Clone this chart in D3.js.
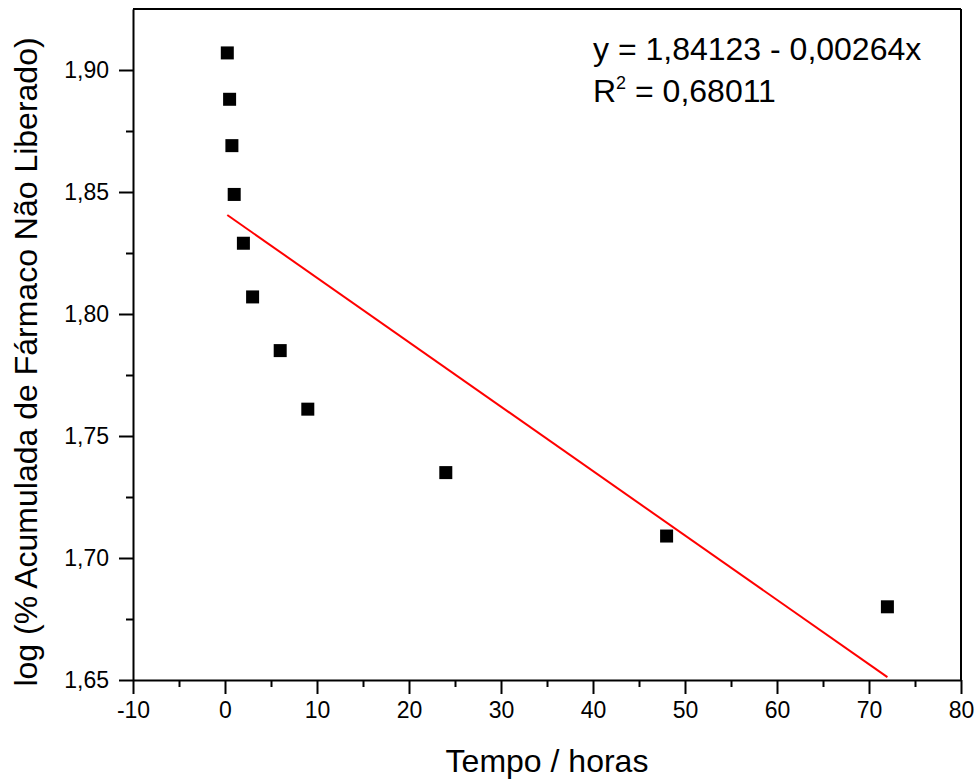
<!DOCTYPE html>
<html>
<head>
<meta charset="utf-8">
<script src="https://cdn.jsdelivr.net/npm/d3@7"></script>
<style>
  body { margin: 0; background: #fff; }
  text { font-family: Arial, "Liberation Sans", sans-serif; fill: #000; }
</style>
</head>
<body>
<div id="chart_div"></div>
<script>
//---------------------------- DATA ----------------------------//
const tempo = [0.25, 0.5, 0.75, 1, 2, 3, 6, 9, 24, 48, 72];
const logNaoLiberado = [1.907, 1.888, 1.869, 1.849, 1.829, 1.807, 1.785, 1.761, 1.735, 1.709, 1.680];
const fitIntercept = 1.84123;
const fitSlope = -0.00264;
const fitRange = [0.25, 72];
const xTicks = [-10, 0, 10, 20, 30, 40, 50, 60, 70, 80];
const yTicks = [1.65, 1.70, 1.75, 1.80, 1.85, 1.90];
const eqLines = ["y = 1,84123 - 0,00264x", "R", "2", " = 0,68011"];

//---------------------------- SVG -----------------------------//
const width = 980, height = 783;
const m = { left: 133, right: 961, top: 9, bottom: 680 };

const svg = d3.select("#chart_div").append("svg")
  .attr("width", width)
  .attr("height", height);

//--------------------------- SCALES ---------------------------//
const x = d3.scaleLinear().domain([-10, 80]).range([m.left, m.right]);
const y = d3.scaleLinear().domain([1.65, 1.925]).range([m.bottom, m.top]);

const fmt = v => d3.format(".2f")(v).replace(".", ",");

//---------------------------- AXES ----------------------------//
// minor ticks first
svg.append("g")
  .attr("transform", "translate(0," + m.bottom + ")")
  .call(d3.axisBottom(x).tickValues(d3.range(-5, 80, 10)).tickSize(7).tickFormat(""))
  .call(g => g.select(".domain").remove())
  .selectAll("line").attr("stroke-width", 2);

svg.append("g")
  .attr("transform", "translate(" + m.left + ",0)")
  .call(d3.axisLeft(y).tickValues(d3.range(1.675, 1.92, 0.05)).tickSize(7).tickFormat(""))
  .call(g => g.select(".domain").remove())
  .selectAll("line").attr("stroke-width", 2);

const xaxis = svg.append("g")
  .attr("transform", "translate(0," + m.bottom + ")")
  .call(d3.axisBottom(x).tickValues(xTicks).tickSize(14).tickPadding(6).tickSizeOuter(0).tickFormat(d => d));
xaxis.selectAll("line").attr("stroke-width", 2);
xaxis.select(".domain").attr("stroke-width", 2);
xaxis.selectAll("text").style("font-size", "23px").attr("dy", "0.78em");

const yaxis = svg.append("g")
  .attr("transform", "translate(" + m.left + ",0)")
  .call(d3.axisLeft(y).tickValues(yTicks).tickSize(14).tickPadding(10).tickSizeOuter(0).tickFormat(fmt));
yaxis.selectAll("line").attr("stroke-width", 2);
yaxis.select(".domain").attr("stroke-width", 2);
yaxis.selectAll("text").style("font-size", "23px");

// top and right frame
svg.append("line")
  .attr("x1", m.left).attr("x2", m.right).attr("y1", m.top).attr("y2", m.top)
  .attr("stroke", "#000").attr("stroke-width", 2);
svg.append("line")
  .attr("x1", m.right).attr("x2", m.right).attr("y1", m.top).attr("y2", m.bottom)
  .attr("stroke", "#000").attr("stroke-width", 2);

//--------------------------- TITLES ---------------------------//
svg.append("text")
  .attr("x", (m.left + m.right) / 2)
  .attr("y", 772)
  .attr("text-anchor", "middle")
  .style("font-size", "32px")
  .text("Tempo / horas");

svg.append("text")
  .attr("transform", "translate(37," + 362 + ") rotate(-90)")
  .attr("text-anchor", "middle")
  .style("font-size", "32px")
  .text("log (% Acumulada de Fármaco Não Liberado)");

//------------------------- FIT LINE ---------------------------//
const fit = fitRange.map(t => ({ t: t, v: fitIntercept + fitSlope * t }));
svg.append("path")
  .datum(fit)
  .attr("fill", "none")
  .attr("stroke", "#ff0000")
  .attr("stroke-width", 2)
  .attr("d", d3.line().x(d => x(d.t)).y(d => y(d.v)));

//--------------------------- POINTS ---------------------------//
const s = 13;
svg.append("g")
  .selectAll("rect")
  .data(tempo.map((t, i) => ({ t: t, v: logNaoLiberado[i] })))
  .enter()
  .append("rect")
  .attr("x", d => x(d.t) - s / 2)
  .attr("y", d => y(d.v) - s / 2)
  .attr("width", s)
  .attr("height", s)
  .attr("fill", "#000");

//-------------------------- EQUATION --------------------------//
svg.append("text")
  .attr("x", 593).attr("y", 60)
  .style("font-size", "32px")
  .text(eqLines[0]);

const r2 = svg.append("text")
  .attr("x", 593).attr("y", 102)
  .style("font-size", "32px");
r2.append("tspan").text(eqLines[1]);
r2.append("tspan").attr("dy", -13).style("font-size", "18px").text(eqLines[2]);
r2.append("tspan").attr("dy", 13).text(eqLines[3]);
</script>
</body>
</html>
